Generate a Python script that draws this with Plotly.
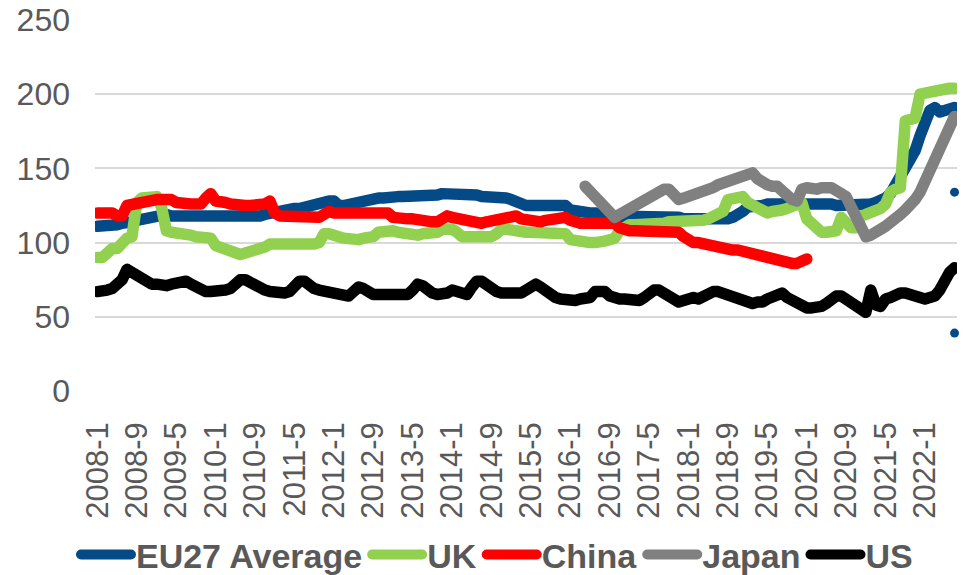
import plotly.graph_objects as go

# Monthly axis 2008-1 .. 2022-7
first_year, last_year, last_month = 2008, 2022, 7
months = [f"{y}-{m}" for y in range(first_year, last_year + 1) for m in range(1, 13)
          if not (y == last_year and m > last_month)]

tick_labels = ["2008-1", "2008-9", "2009-5", "2010-1", "2010-9", "2011-5", "2012-1",
               "2012-9", "2013-5", "2014-1", "2014-9", "2015-5", "2016-1", "2016-9",
               "2017-5", "2018-1", "2018-9", "2019-5", "2020-1", "2020-9", "2021-5",
               "2022-1"]

eu27 = [
    111, 111, 112, 112, 112, 113, 113, 114, 115, 116, 117, 118,
    119, 119, 119, 118, 118, 118, 118, 118, 118, 118, 118, 118,
    118, 118, 118, 118, 117, 117, 118, 118, 118, 118, 119, 120,
    121, 121, 122, 122, 123, 123, 124, 124, 125, 126, 127, 128,
    128, 125, 125, 126, 127, 127, 128, 128, 129, 130, 130, 131,
    131, 131, 131, 131, 132, 132, 132, 132, 132, 132, 133, 133,
    133, 133, 133, 133, 132, 132, 131, 131, 131, 131, 131, 130,
    129, 127, 126, 125, 125, 125, 126, 126, 126, 126, 126, 125,
    122, 121, 121, 121, 120, 120, 120, 119, 118, 118, 118, 118,
    118, 118, 118, 118, 118, 118, 118, 117, 117, 117, 117, 116,
    116, 115, 115, 115, 115, 115, 115, 116, 116, 117, 118, 121,
    124, 124, 125, 125, 126, 126, 126, 126, 127, 127, 127, 127,
    127, 127, 127, 127, 126, 126, 125, 125, 125, 125, 125, 125,
    126, 126, 127, 128, 130, 133, 139, 144, 149, 154, 162, 172,
    182, 189, 191, 188, 189, 190, 191,
]

uk = [
    90, 90, 93, 96, 96, 101, 103, 104, 127, 130, 131, 131,
    131, 124, 108, 107, 106, 106, 106, 105, 104, 104, 104, 103,
    98, 97, 96, 93, 92, 92, 93, 94, 94, 94, 97, 99,
    99, 99, 98, 98, 98, 98, 99, 99, 99, 100, 106, 106,
    104, 104, 103, 102, 102, 102, 103, 103, 104, 107, 108, 108,
    108, 107, 106, 106, 105, 105, 106, 106, 106, 107, 109, 110,
    109, 107, 104, 104, 104, 103, 103, 103, 104, 106, 109, 109,
    108, 107, 107, 107, 107, 107, 106, 106, 106, 106, 106, 106,
    102, 101, 101, 100, 100, 100, 100, 101, 102, 103, 108, 111,
    112, 112, 112, 112, 113, 113, 113, 113, 114, 114, 114, 114,
    114, 114, 115, 115, 116, 117, 119, 121, 129, 130, 131, 131,
    127, 125, 122, 120, 120, 121, 121, 122, 123, 124, 125, 127,
    116, 113, 109, 107, 107, 107, 108, 117, 112, 110, 110, 118,
    119, 120, 121, 123, 126, 134, 136, 137, 182, 183, 184, 200,
    201, 202, 203, 203, 204, 204, 204,
]

china = [
    120, 120, 120, 120, 118, 118, 125, 126, 127, 128, 128, 129,
    129, 129, 129, 129, 127, 126, 126, 126, 126, 126, 130, 133,
    128, 128, 127, 126, 125, 125, 125, 125, 125, 125, 126, 128,
    120, 118, 118, 117, 117, 117, 117, 117, 117, 117, 119, 121,
    120, 120, 120, 120, 120, 120, 120, 119, 119, 119, 120, 120,
    117, 116, 116, 116, 116, 115, 115, 115, 114, 114, 116, 118,
    117, 116, 115, 114, 114, 114, 113, 114, 115, 116, 117, 118,
    119, 118, 116, 115, 114, 114, 114, 115, 116, 116, 117, 117,
    115, 113, 113, 113, 113, 113, 113, 113, 113, 113, 110, 108,
    108, 108, 108, 108, 108, 108, 108, 107, 107, 107, 107, 104,
    101, 100, 100, 99, 98, 97, 97, 96, 96, 95, 95, 94,
    94, 93, 92, 91, 90, 88, 87, 86, 86, 86, 86, 87,
    89,
]

japan_start = "2016-4"
japan = [
    138, 134, 130, 126, 124, 120, 117, 119, 121, 124,
    126, 128, 129, 131, 133, 134, 136, 136, 131, 129,
    130, 131, 132, 134, 134, 135, 137, 139, 140, 141,
    142, 144, 145, 146, 147, 143, 140, 139, 138, 138,
    135, 131, 129, 128, 136, 137, 136, 136, 137, 137,
    137, 135, 133, 131, 124, 118, 110, 104, 105, 106,
    109, 111, 113, 116, 119, 122, 125, 129, 134, 141,
    148, 156, 164, 171, 180, 185,
]

us = [
    67, 67, 68, 69, 72, 75, 82, 80, 78, 76, 73, 72,
    72, 71, 71, 72, 73, 74, 74, 72, 70, 68, 67, 67,
    67, 67, 68, 69, 72, 75, 75, 73, 70, 68, 68, 67,
    66, 66, 66, 67, 71, 74, 74, 71, 69, 68, 67, 66,
    65, 64, 64, 64, 67, 70, 69, 66, 65, 65, 65, 64,
    64, 65, 65, 65, 68, 72, 71, 68, 66, 65, 65, 66,
    68, 67, 66, 65, 70, 74, 74, 71, 68, 67, 66, 66,
    66, 65, 66, 68, 71, 72, 70, 67, 65, 63, 62, 61,
    61, 61, 62, 62, 63, 67, 68, 67, 64, 62, 62, 62,
    62, 61, 61, 63, 66, 68, 68, 66, 64, 61, 60, 61,
    63, 63, 62, 64, 66, 67, 67, 66, 64, 62, 61, 60,
    59, 59, 60, 60, 62, 64, 66, 66, 63, 61, 59, 57,
    56, 56, 56, 57, 59, 62, 64, 64, 62, 59, 57, 55,
    53, 68, 58, 57, 62, 63, 65, 66, 66, 65, 62, 61,
    62, 63, 64, 68, 75, 80, 83,
]

# Two single-month EU27 points shown as dots in the last month
eu_dot_month = ["2022-7", "2022-7"]
eu_dot_values = [134, 39]

series = [
    ("EU27 Average", months, eu27, "#044a86"),
    ("UK", months, uk, "#92d050"),
    ("China", months[:len(china)], china, "#ff0000"),
    ("Japan", months[months.index(japan_start):months.index(japan_start) + len(japan)], japan, "#808080"),
    ("US", months, us, "#000000"),
]

FONT = "Liberation Sans, Arial, sans-serif"
TEXT = "#595959"

fig = go.Figure()
for name, xs, ys, color in series:
    fig.add_trace(go.Scatter(x=xs, y=ys, name=name, mode="lines",
                             line=dict(color=color, width=11.5)))

fig.add_trace(go.Scatter(x=eu_dot_month, y=eu_dot_values, mode="markers",
                         marker=dict(color="#044a86", size=9), cliponaxis=False,
                         showlegend=False, hoverinfo="skip"))

fig.update_layout(
    width=965, height=575,
    margin=dict(l=95, r=8, t=20, b=184, autoexpand=False),
    paper_bgcolor="white", plot_bgcolor="white",
    font=dict(family=FONT, color=TEXT),
    showlegend=True,
    legend=dict(orientation="h", xref="container", yref="container",
                x=0.515, xanchor="center", y=0.035, yanchor="middle",
                font=dict(size=34, color=TEXT, family=FONT, weight="bold"),
                itemwidth=50, tracegroupgap=0, traceorder="normal"),
)

fig.update_xaxes(type="category", categoryorder="array", categoryarray=months,
                 range=[-0.5, len(months) - 0.5],
                 tickmode="array", tickvals=tick_labels, ticktext=tick_labels,
                 tickangle=-90, tickfont=dict(size=31, color=TEXT),
                 ticklabelstandoff=24, showgrid=False, showline=False,
                 zeroline=False, ticks="")

fig.update_yaxes(range=[0, 250], dtick=50, tickfont=dict(size=32, color=TEXT),
                 showgrid=True, gridcolor="#d9d9d9", gridwidth=2,
                 zeroline=False, showline=False, ticks="",
                 ticklabelstandoff=24)

round_lines = (
    "document.querySelectorAll('.js-line').forEach(function(p){"
    "p.style.strokeLinecap='round';p.style.strokeLinejoin='round';});"
)

fig.write_html("out.html", post_script=round_lines)
